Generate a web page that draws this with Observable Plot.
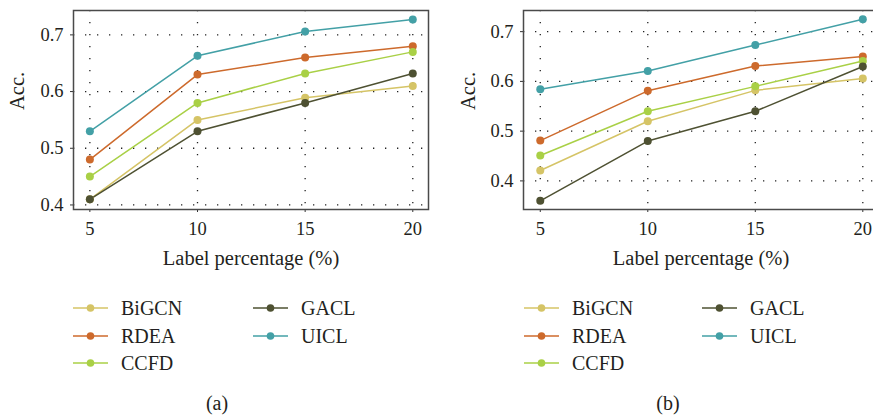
<!DOCTYPE html>
<html>
<head>
<meta charset="utf-8">
<script src="https://cdn.jsdelivr.net/npm/d3@7"></script>
<script src="https://cdn.jsdelivr.net/npm/@observablehq/plot@0.6"></script>
<style>
  html, body { margin: 0; padding: 0; background: #fff; overflow: hidden; }
  #root { position: relative; width: 873px; height: 416px; overflow: hidden; font-family: "Liberation Serif", serif; color: #231f20; }
  .panel { position: absolute; top: 0; }
  .panel svg { max-width: none !important; display: block; }
  .leg { position: absolute; font-size: 20px; line-height: 20px; white-space: nowrap; display: flex; align-items: center; }
  .leg svg { margin-right: 13px; }
  .cap { position: absolute; font-size: 20px; transform: translate(-50%, -50%); }
</style>
</head>
<body>
<div id="root"></div>
<script>
// ---- data ----
const labelPct = [5, 10, 15, 20];
const seriesNames = ["BiGCN", "RDEA", "CCFD", "GACL", "UICL"];
const seriesColors = ["#d5c466", "#cd6a2c", "#a9d046", "#4e5132", "#43a0a6"];
const yTicks = [0.4, 0.5, 0.6, 0.7];

// panel (a)
const a_BiGCN = [0.41, 0.55, 0.589, 0.61];
const a_RDEA  = [0.48, 0.63, 0.66, 0.68];
const a_CCFD  = [0.45, 0.58, 0.632, 0.67];
const a_GACL  = [0.41, 0.53, 0.58, 0.632];
const a_UICL  = [0.53, 0.663, 0.706, 0.727];

// panel (b)
const b_BiGCN = [0.421, 0.52, 0.582, 0.606];
const b_RDEA  = [0.481, 0.581, 0.631, 0.65];
const b_CCFD  = [0.451, 0.54, 0.59, 0.641];
const b_GACL  = [0.36, 0.48, 0.54, 0.63];
const b_UICL  = [0.584, 0.621, 0.673, 0.725];

function toRows(arrs) {
  const rows = [];
  seriesNames.forEach((s, i) => arrs[i].forEach((v, j) => rows.push({series: s, x: labelPct[j], y: v})));
  return rows;
}
const dataA = toRows([a_BiGCN, a_RDEA, a_CCFD, a_GACL, a_UICL]);
const dataB = toRows([b_BiGCN, b_RDEA, b_CCFD, b_GACL, b_UICL]);

function panel(data, opts) {
  return Plot.plot({
    width: opts.width, height: 280,
    marginLeft: opts.marginLeft, marginRight: opts.marginRight, marginTop: 10, marginBottom: 71,
    style: {fontFamily: "Liberation Serif, serif", fontSize: "18px", color: "#231f20", background: "transparent", overflow: "visible"},
    x: {domain: opts.xDomain},
    y: {domain: opts.yDomain},
    color: {domain: seriesNames, range: seriesColors},
    marks: [
      Plot.gridX(labelPct, {stroke: "#222", strokeOpacity: 1, strokeWidth: 1.3, strokeDasharray: "1.3,10.7"}),
      Plot.gridY(yTicks, {stroke: "#222", strokeOpacity: 1, strokeWidth: 1.3, strokeDasharray: "1.3,10.7"}),
      Plot.axisX(labelPct, {tickSize: 3, tickPadding: 9, label: null, stroke: "#333", fontSize: 18.5}),
      Plot.axisY(yTicks, {tickSize: 3, tickPadding: 7, label: null, tickFormat: d3.format(".1f"), stroke: "#333", fontSize: 18.5}),
      Plot.frame({stroke: "#4a4a4a", strokeWidth: 1.5}),
      Plot.text(["Label percentage (%)"], {frameAnchor: "bottom", dy: 55, fontSize: 20.5, fill: "#231f20"}),
      Plot.text(["Acc."], {frameAnchor: "left", rotate: -90, dx: opts.yLabelDx, fontSize: 20.5, fill: "#231f20"}),
      Plot.line(data, {x: "x", y: "y", z: "series", stroke: "series", strokeWidth: 1.5}),
      Plot.dot(data, {x: "x", y: "y", fill: "series", r: 4})
    ]
  });
}

const root = document.getElementById("root");

const pA = panel(dataA, {width: 440, marginLeft: 73, marginRight: 12, xDomain: [4.24, 20.73], yDomain: [0.392, 0.743], yLabelDx: -56});
const wA = document.createElement("div"); wA.className = "panel"; wA.style.left = "0px"; wA.style.width = "440px"; wA.appendChild(pA); root.appendChild(wA);

const pB = panel(dataB, {width: 445, marginLeft: 83, marginRight: 7, xDomain: [4.22, 20.73], yDomain: [0.3425, 0.7425], yLabelDx: -55});
const wB = document.createElement("div"); wB.className = "panel"; wB.style.left = "440px"; wB.style.width = "445px"; wB.appendChild(pB); root.appendChild(wB);

// legends
function legendItem(name, color, left, cy) {
  const d = document.createElement("div");
  d.className = "leg";
  d.style.left = left + "px";
  d.style.top = (cy - 10) + "px";
  d.innerHTML = `<svg width="35" height="20"><line x1="0" x2="35" y1="10" y2="10" stroke="${color}" stroke-width="2" stroke-opacity="0.75"/><circle cx="17.5" cy="10" r="3.8" fill="${color}"/></svg><span>${name}</span>`;
  root.appendChild(d);
}
const rowsY = [308, 336, 363];
function legendBlock(col1x, col2x) {
  legendItem(seriesNames[0], seriesColors[0], col1x, rowsY[0]);
  legendItem(seriesNames[1], seriesColors[1], col1x, rowsY[1]);
  legendItem(seriesNames[2], seriesColors[2], col1x, rowsY[2]);
  legendItem(seriesNames[3], seriesColors[3], col2x, rowsY[0]);
  legendItem(seriesNames[4], seriesColors[4], col2x, rowsY[1]);
}
legendBlock(73, 253);
legendBlock(524, 702);

function caption(txt, cx, cy) {
  const d = document.createElement("div");
  d.className = "cap"; d.textContent = txt;
  d.style.left = cx + "px"; d.style.top = cy + "px";
  root.appendChild(d);
}
caption("(a)", 217, 403);
caption("(b)", 668, 403);
</script>
</body>
</html>
